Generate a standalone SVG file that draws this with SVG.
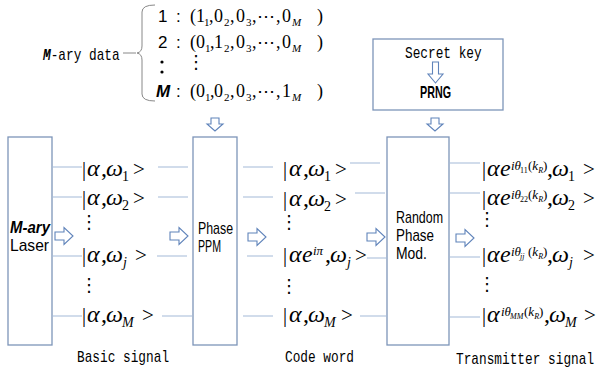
<svg xmlns="http://www.w3.org/2000/svg" width="598" height="376" viewBox="0 0 598 376">
<defs>
<style>
.box{fill:#fff;stroke:#7d95b9;stroke-width:1.3}
.ln{stroke:#a3bad8;stroke-width:1.2;fill:none}
.ar{fill:#fff;stroke:#5f83ba;stroke-width:1.1}
.mono{font-family:"Liberation Mono","DejaVu Sans Mono",monospace;font-size:16px;fill:#000}
.sans{font-family:"Liberation Sans",Arial,sans-serif;font-size:17px;fill:#000}
.m{font-family:"Liberation Serif","DejaVu Serif",serif;font-size:24px;fill:#000}
.t{font-family:"Liberation Serif","DejaVu Serif",serif;font-size:18px;fill:#000}
.i{font-style:italic}
.bar{font-size:20px}
.gt{font-size:21px}
.sb{font-size:14px}
.sp{font-size:13px}
.ss{font-size:8px}
.s11{font-size:11px}
.dots{font-family:"DejaVu Sans",sans-serif;font-size:18px;fill:#000}
</style>
<path id="ra" d="M0,-4 H9 V-8.5 L18,0 L9,8.5 V4 H0 Z"/>
<path id="da" d="M-4,0 H4 V6 H8 L0,13 L-8,6 H-4 Z"/>
</defs>
<rect width="598" height="376" fill="#fff"/>

<!-- M-ary data -->
<g id="data">
<text class="mono" transform="translate(43,60) scale(0.8,1)"><tspan class="i" font-weight="bold">M</tspan>-ary data</text>
<path d="M123,53 H136 M155,5 Q142,5 142,12 V46 Q142,52 137,53 Q142,54 142,60 V94 Q142,101 155,101" fill="none" stroke="#888" stroke-width="1"/>
<text class="sans" x="158" y="22">1</text>
<text class="sans" x="176" y="22">:</text>
<text class="sans" x="158" y="48">2</text>
<text class="sans" x="176" y="48">:</text>
<circle cx="162" cy="62" r="1.6" fill="#000"/>
<circle cx="162" cy="72" r="1.6" fill="#000"/>
<text class="dots" font-size="16" x="187" y="68">⋮</text>
<text class="sans i" font-weight="bold" x="156" y="97">M</text>
<text class="sans" x="176" y="97">:</text>
<text class="t" y="22"><tspan x="190">(</tspan><tspan x="196">1</tspan><tspan x="204" y="26" class="s11">1</tspan><tspan x="209" y="22">,</tspan><tspan x="214">0</tspan><tspan x="224" y="26" class="s11">2</tspan><tspan x="230" y="22">,</tspan><tspan x="236">0</tspan><tspan x="246" y="26" class="s11">3</tspan><tspan x="252" y="22">,</tspan><tspan x="257">⋯</tspan><tspan x="276">,</tspan><tspan x="282">0</tspan><tspan x="292" y="26" class="s11 i">M</tspan><tspan x="317" y="22">)</tspan></text>
<text class="t" y="48"><tspan x="190">(</tspan><tspan x="196">0</tspan><tspan x="205" y="52" class="s11">1</tspan><tspan x="210" y="48">,</tspan><tspan x="214">1</tspan><tspan x="224" y="52" class="s11">2</tspan><tspan x="230" y="48">,</tspan><tspan x="236">0</tspan><tspan x="246" y="52" class="s11">3</tspan><tspan x="252" y="48">,</tspan><tspan x="257">⋯</tspan><tspan x="276">,</tspan><tspan x="282">0</tspan><tspan x="292" y="52" class="s11 i">M</tspan><tspan x="317" y="48">)</tspan></text>
<text class="t" y="97"><tspan x="190">(</tspan><tspan x="196">0</tspan><tspan x="205" y="101" class="s11">1</tspan><tspan x="210" y="97">,</tspan><tspan x="214">0</tspan><tspan x="224" y="101" class="s11">2</tspan><tspan x="230" y="97">,</tspan><tspan x="236">0</tspan><tspan x="246" y="101" class="s11">3</tspan><tspan x="252" y="97">,</tspan><tspan x="257">⋯</tspan><tspan x="276">,</tspan><tspan x="282">1</tspan><tspan x="292" y="101" class="s11 i">M</tspan><tspan x="317" y="97">)</tspan></text>
</g>

<!-- Secret key / PRNG -->
<g id="prng">
<rect class="box" x="373" y="39" width="130" height="71"/>
<text class="mono" transform="translate(405,58) scale(0.8,1)">Secret key</text>
<path class="ar" d="M-3,0 H3 V12 H7.5 L0,21 L-7.5,12 H-3 Z" transform="translate(435.5,62)"/>
<text class="sans" font-weight="bold" x="420" y="98" textLength="31" lengthAdjust="spacingAndGlyphs">PRNG</text>
</g>

<!-- Laser -->
<g id="laser">
<rect class="box" x="8" y="137" width="44" height="208"/>
<text class="sans i" font-weight="bold" font-size="15" x="10" y="233" textLength="40" lengthAdjust="spacingAndGlyphs">M-ary</text>
<text class="sans" font-size="16" x="10" y="251" textLength="39" lengthAdjust="spacingAndGlyphs">Laser</text>
</g>

<!-- Phase PPM -->
<g id="ppm">
<rect class="box" x="193" y="137" width="44" height="208"/>
<text class="sans" font-size="16" x="198" y="234" textLength="35" lengthAdjust="spacingAndGlyphs">Phase</text>
<text class="sans" font-size="16" x="198" y="252" textLength="23" lengthAdjust="spacingAndGlyphs">PPM</text>
</g>

<!-- Random Phase Mod. -->
<g id="rpm">
<rect class="box" x="387" y="137" width="62" height="208"/>
<text class="sans" x="396" y="223" textLength="47" lengthAdjust="spacingAndGlyphs">Random</text>
<text class="sans" x="396" y="241" textLength="38" lengthAdjust="spacingAndGlyphs">Phase</text>
<text class="sans" x="396" y="259" textLength="31" lengthAdjust="spacingAndGlyphs">Mod.</text>
</g>

<!-- connectors -->
<g id="connectors">
<path class="ln" d="M52,167 H82 M52,197 H82 M52,256 H82 M52,316 H82 M158,167 H188 M158,197 H188 M157,256 H187 M162,316 H192"/>
<path class="ln" d="M243,167 H273 M243,197 H273 M247,256 H273 M243,316 H273 M350,163 H380 M355,193 H385 M367,258 H387 M360,316 H387"/>
<path class="ln" d="M449,163 H480 M449,193 H480 M449,257 H480 M449,317 H480"/>
<use href="#ra" class="ar" x="55" y="236"/>
<use href="#ra" class="ar" x="170" y="236"/>
<use href="#ra" class="ar" x="248" y="237"/>
<use href="#ra" class="ar" x="367" y="237"/>
<use href="#ra" class="ar" x="456" y="238"/>
<use href="#da" class="ar" x="215" y="118"/>
<use href="#da" class="ar" x="435" y="118"/>
</g>

<!-- Basic signal -->
<g id="basic">
<text class="m" y="176"><tspan x="82" class="bar">|</tspan><tspan x="87" class="i">α</tspan><tspan x="101">,</tspan><tspan x="106" class="i">ω</tspan><tspan x="122" y="181" class="sb">1</tspan><tspan x="133" y="176" class="gt">&gt;</tspan></text>
<text class="m" y="205"><tspan x="82" class="bar">|</tspan><tspan x="87" class="i">α</tspan><tspan x="101">,</tspan><tspan x="106" class="i">ω</tspan><tspan x="122" y="210" class="sb">2</tspan><tspan x="133" y="205" class="gt">&gt;</tspan></text>
<text class="dots" x="80" y="228">⋮</text>
<text class="m" y="262"><tspan x="82" class="bar">|</tspan><tspan x="87" class="i">α</tspan><tspan x="101">,</tspan><tspan x="106" class="i">ω</tspan><tspan x="123" y="267" class="sb i">j</tspan><tspan x="135" y="262" class="gt">&gt;</tspan></text>
<text class="dots" x="80" y="291">⋮</text>
<text class="m" y="322"><tspan x="82" class="bar">|</tspan><tspan x="87" class="i">α</tspan><tspan x="101">,</tspan><tspan x="106" class="i">ω</tspan><tspan x="122" y="327" class="sb i">M</tspan><tspan x="142" y="322" class="gt">&gt;</tspan></text>
<text class="mono" transform="translate(77,362) scale(0.8,1)">Basic signal</text>
</g>

<!-- Code word -->
<g id="code">
<text class="m" y="176"><tspan x="283" class="bar">|</tspan><tspan x="289" class="i">α</tspan><tspan x="303">,</tspan><tspan x="308" class="i">ω</tspan><tspan x="324" y="181" class="sb">1</tspan><tspan x="335" y="176" class="gt">&gt;</tspan></text>
<text class="m" y="206"><tspan x="283" class="bar">|</tspan><tspan x="289" class="i">α</tspan><tspan x="303">,</tspan><tspan x="308" class="i">ω</tspan><tspan x="324" y="211" class="sb">2</tspan><tspan x="335" y="206" class="gt">&gt;</tspan></text>
<text class="dots" x="280" y="228">⋮</text>
<text class="m" y="262"><tspan x="283" class="bar">|</tspan><tspan x="289" class="i">α</tspan><tspan x="302" class="i">e</tspan><tspan x="313" y="255" class="sp i">iπ</tspan><tspan x="325" y="262">,</tspan><tspan x="330" class="i">ω</tspan><tspan x="347" y="267" class="sb i">j</tspan><tspan x="355" y="262" class="gt">&gt;</tspan></text>
<text class="dots" x="280" y="292">⋮</text>
<text class="m" y="322"><tspan x="283" class="bar">|</tspan><tspan x="289" class="i">α</tspan><tspan x="303">,</tspan><tspan x="308" class="i">ω</tspan><tspan x="324" y="327" class="sb i">M</tspan><tspan x="341" y="322" class="gt">&gt;</tspan></text>
<text class="mono" transform="translate(285,362) scale(0.8,1)">Code word</text>
</g>

<!-- Transmitter signal -->
<g id="tx">
<text class="m" y="176"><tspan x="482" class="bar">|</tspan><tspan x="487" class="i">α</tspan><tspan x="500" class="i">e</tspan><tspan x="511" y="170" class="sp i">iθ</tspan><tspan x="520" y="173" class="ss">11</tspan><tspan x="528" y="170" class="sp">(</tspan><tspan class="sp i">k</tspan><tspan y="173" class="ss i">R</tspan><tspan y="170" class="sp">)</tspan><tspan x="547" y="176">,</tspan><tspan x="552" class="i">ω</tspan><tspan x="568" y="181" class="sb">1</tspan><tspan x="583" y="176" class="gt">&gt;</tspan></text>
<text class="m" y="205"><tspan x="482" class="bar">|</tspan><tspan x="487" class="i">α</tspan><tspan x="500" class="i">e</tspan><tspan x="511" y="199" class="sp i">iθ</tspan><tspan x="520" y="202" class="ss">22</tspan><tspan x="528" y="199" class="sp">(</tspan><tspan class="sp i">k</tspan><tspan y="202" class="ss i">R</tspan><tspan y="199" class="sp">)</tspan><tspan x="547" y="205">,</tspan><tspan x="552" class="i">ω</tspan><tspan x="568" y="210" class="sb">2</tspan><tspan x="583" y="205" class="gt">&gt;</tspan></text>
<text class="dots" x="478" y="225">⋮</text>
<text class="m" y="262"><tspan x="482" class="bar">|</tspan><tspan x="487" class="i">α</tspan><tspan x="500" class="i">e</tspan><tspan x="511" y="256" class="sp i">iθ</tspan><tspan x="520" y="259" class="ss i">jj</tspan><tspan x="528" y="256" class="sp">(</tspan><tspan class="sp i">k</tspan><tspan y="259" class="ss i">R</tspan><tspan y="256" class="sp">)</tspan><tspan x="547" y="262">,</tspan><tspan x="552" class="i">ω</tspan><tspan x="569" y="267" class="sb i">j</tspan><tspan x="583" y="262" class="gt">&gt;</tspan></text>
<text class="dots" x="478" y="290">⋮</text>
<text class="m" y="322"><tspan x="482" class="bar">|</tspan><tspan x="487" class="i">α</tspan><tspan x="501" y="316" class="sp i">iθ</tspan><tspan x="510" y="319" class="ss i">MM</tspan><tspan x="524" y="316" class="sp">(</tspan><tspan class="sp i">k</tspan><tspan y="319" class="ss i">R</tspan><tspan y="316" class="sp">)</tspan><tspan x="544" y="322">,</tspan><tspan x="549" class="i">ω</tspan><tspan x="565" y="327" class="sb i">M</tspan><tspan x="584" y="322" class="gt">&gt;</tspan></text>
<text class="mono" transform="translate(456,364) scale(0.8,1)">Transmitter signal</text>
</g>
</svg>
